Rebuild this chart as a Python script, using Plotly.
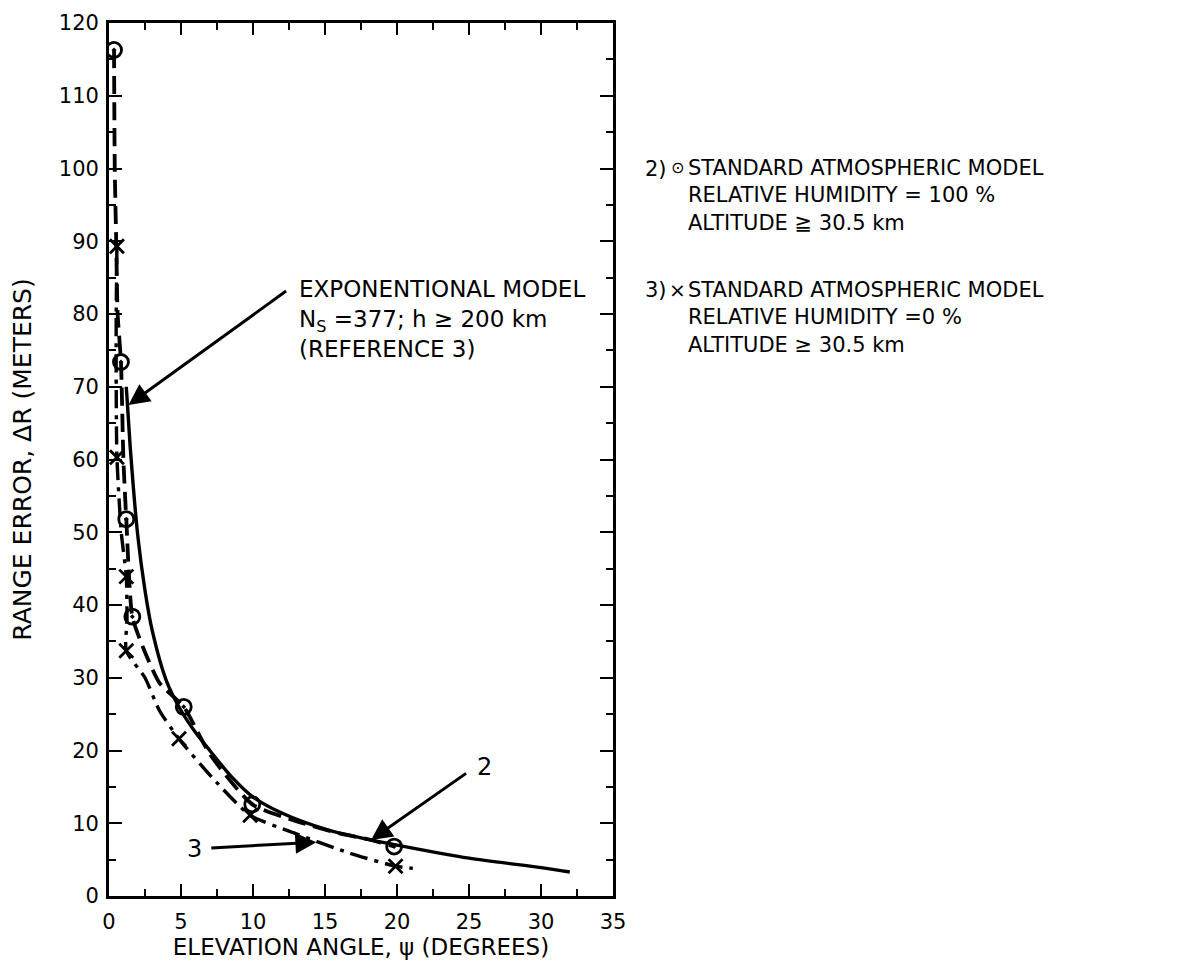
import plotly.graph_objects as go

# ---------------- data ----------------
# Exponential model, Ns = 377 (solid curve)
exp_x = [1.2, 1.3, 1.5, 2.0, 2.5, 3.0, 4.0, 5.0, 6.0, 7.0, 8.5, 10.0,
         12.0, 15.0, 17.5, 20.0, 25.0, 30.0, 32.0]
exp_y = [70.0, 67.0, 61.0, 49.5, 42.0, 36.5, 29.5, 25.5, 22.5, 20.0, 16.4, 13.6,
         11.4, 9.2, 8.0, 7.0, 5.2, 3.9, 3.3]

# 2) Standard atmospheric model, RH = 100 % (dashed curve + circle-dot points)
rh100_line_x = [0.35, 0.4, 0.5, 0.6, 0.83, 1.0, 1.2, 1.62, 2.36, 3.5, 5.19, 7.0, 9.95,
                13.0, 16.0, 18.0, 19.8]
rh100_line_y = [116.3, 100.0, 90.0, 80.0, 73.4, 60.0, 51.8, 38.4, 34.2, 29.3, 26.0, 19.5, 12.6,
                10.3, 8.6, 7.8, 6.8]
rh100_pts_x = [0.35, 0.83, 1.2, 1.62, 5.19, 9.95, 19.8]
rh100_pts_y = [116.3, 73.4, 51.8, 38.4, 26.0, 12.6, 6.8]

# 3) Standard atmospheric model, RH = 0 % (dash-dot curve + x points)
rh0_line_x = [0.55, 0.5, 0.5, 0.55, 0.85, 1.2, 1.25, 1.2, 2.5, 3.5, 4.86, 7.2, 9.8,
              12.8, 16.7, 19.9, 21.1]
rh0_line_y = [89.3, 80.0, 70.0, 60.3, 50.0, 43.9, 38.0, 33.7, 30.0, 25.5, 21.6, 16.2, 11.1,
              8.7, 5.9, 4.1, 3.8]
rh0_pts_x = [0.55, 0.55, 1.2, 1.2, 4.86, 9.8, 19.9]
rh0_pts_y = [89.3, 60.3, 43.9, 33.7, 21.6, 11.1, 4.1]

x_tick_vals = [0, 5, 10, 15, 20, 25, 30, 35]
y_tick_vals = [0, 10, 20, 30, 40, 50, 60, 70, 80, 90, 100, 110, 120]

exp_label = "EXPONENTIONAL MODEL<br>N<sub>S</sub> =377; h ≥ 200 km<br>(REFERENCE 3)"
key2_label = "STANDARD ATMOSPHERIC MODEL<br>RELATIVE HUMIDITY = 100 %<br>ALTITUDE ≧ 30.5 km"
key3_label = "STANDARD ATMOSPHERIC MODEL<br>RELATIVE HUMIDITY =0 %<br>ALTITUDE ≥ 30.5 km"

FONT = "DejaVu Sans"
INK = "black"

fig = go.Figure()

fig.add_trace(go.Scatter(x=exp_x, y=exp_y, mode="lines",
                         line=dict(color=INK, width=3.4, shape="spline", smoothing=0.8),
                         name="Exponential model", showlegend=False))
fig.add_trace(go.Scatter(x=rh100_line_x, y=rh100_line_y, mode="lines",
                         line=dict(color=INK, width=3.8, dash="18px,8px", shape="spline", smoothing=0.6),
                         name="RH 100 %", showlegend=False))
fig.add_trace(go.Scatter(x=rh0_line_x, y=rh0_line_y, mode="lines",
                         line=dict(color=INK, width=3.4, dash="18px,7px,4px,7px", shape="spline", smoothing=0.6),
                         name="RH 0 %", showlegend=False))
fig.add_trace(go.Scatter(x=rh100_pts_x, y=rh100_pts_y, mode="markers",
                         marker=dict(symbol="circle-open-dot", size=15, color=INK, line=dict(width=2.8, color=INK)),
                         showlegend=False))
fig.add_trace(go.Scatter(x=rh0_pts_x, y=rh0_pts_y, mode="markers",
                         marker=dict(symbol="x-thin", size=14, color=INK, line=dict(width=2.8, color=INK)),
                         showlegend=False))

axis_common = dict(showline=True, linewidth=2.8, linecolor=INK, mirror="allticks",
                   ticks="inside", tickwidth=2.2, tickcolor=INK, showgrid=False, zeroline=False,
                   tickfont=dict(family=FONT, size=21, color=INK), automargin=False)

fig.update_xaxes(range=[0, 35], tickvals=x_tick_vals, ticklen=12,
                 minor=dict(dtick=2.5, ticks="inside", ticklen=7, tickwidth=2.2, tickcolor=INK, showgrid=False),
                 ticklabelstandoff=5,
                 title=dict(text="ELEVATION ANGLE, ψ (DEGREES)", font=dict(family=FONT, size=23, color=INK),
                            standoff=2),
                 **axis_common)
fig.update_yaxes(range=[0, 120], tickvals=y_tick_vals, ticklen=13,
                 minor=dict(dtick=5, ticks="inside", ticklen=7, tickwidth=2.2, tickcolor=INK, showgrid=False),
                 ticklabelstandoff=3,
                 title=dict(text="RANGE ERROR, ΔR (METERS)", font=dict(family=FONT, size=25, color=INK),
                            standoff=22),
                 **axis_common)

X0_PX, X1_PX, Y0_PX, Y1_PX = 109.0, 613.0, 896.0, 23.0   # plot box in page pixels


def px_to_paper(px, py):
    return (px - X0_PX) / (X1_PX - X0_PX), (Y0_PX - py) / (Y0_PX - Y1_PX)


def text_px(px, py, s, anchor="left", size=21):
    x, y = px_to_paper(px, py)
    fig.add_annotation(x=x, y=y, xref="paper", yref="paper", text=s, showarrow=False,
                       xanchor=anchor, yanchor="middle", align="left",
                       font=dict(family=FONT, size=size, color=INK))


def text(x, y, s, anchor="left", size=23):
    fig.add_annotation(x=x, y=y, xref="x", yref="y", text=s, showarrow=False,
                       xanchor=anchor, yanchor="middle", align="left",
                       font=dict(family=FONT, size=size, color=INK))


def arrow(x0, y0, x1, y1):
    fig.add_annotation(x=x1, y=y1, ax=x0, ay=y0, xref="x", yref="y", axref="x", ayref="y",
                       text="", showarrow=True, arrowhead=2, arrowsize=1.4, arrowwidth=3.0,
                       arrowcolor=INK)


# Exponential model label and arrow (3-line block centred on the middle line)
text(13.05, 79.3, exp_label, size=23)
arrow(12.4, 83.3, 1.35, 67.5)

# curve number labels
text(26.1, 17.7, "2", anchor="center", size=24)
arrow(24.9, 17.0, 18.2, 7.7)
text(5.95, 6.5, "3", anchor="center", size=24)
arrow(7.0, 6.6, 14.4, 7.4)

# key (right of the plot)
text_px(643, 169, "2)", size=21)
text_px(677, 168, "⊙", anchor="center", size=16)
text_px(686, 196, key2_label, size=21)
text_px(643, 290, "3)", size=21)
text_px(677, 290, "×", anchor="center", size=20)
text_px(686, 317, key3_label, size=21)

# page body has an 8 px margin: figure is placed at (8, 8)
FIG_W, FIG_H = 1168, 957
fig.update_layout(width=FIG_W, height=FIG_H,
                  margin=dict(l=int(X0_PX - 8), r=int(FIG_W - (X1_PX - 8)),
                              t=int(Y1_PX - 8), b=int(FIG_H - (Y0_PX - 8)), autoexpand=False),
                  plot_bgcolor="white", paper_bgcolor="white",
                  font=dict(family=FONT, color=INK))

fig.write_html("out.html")
